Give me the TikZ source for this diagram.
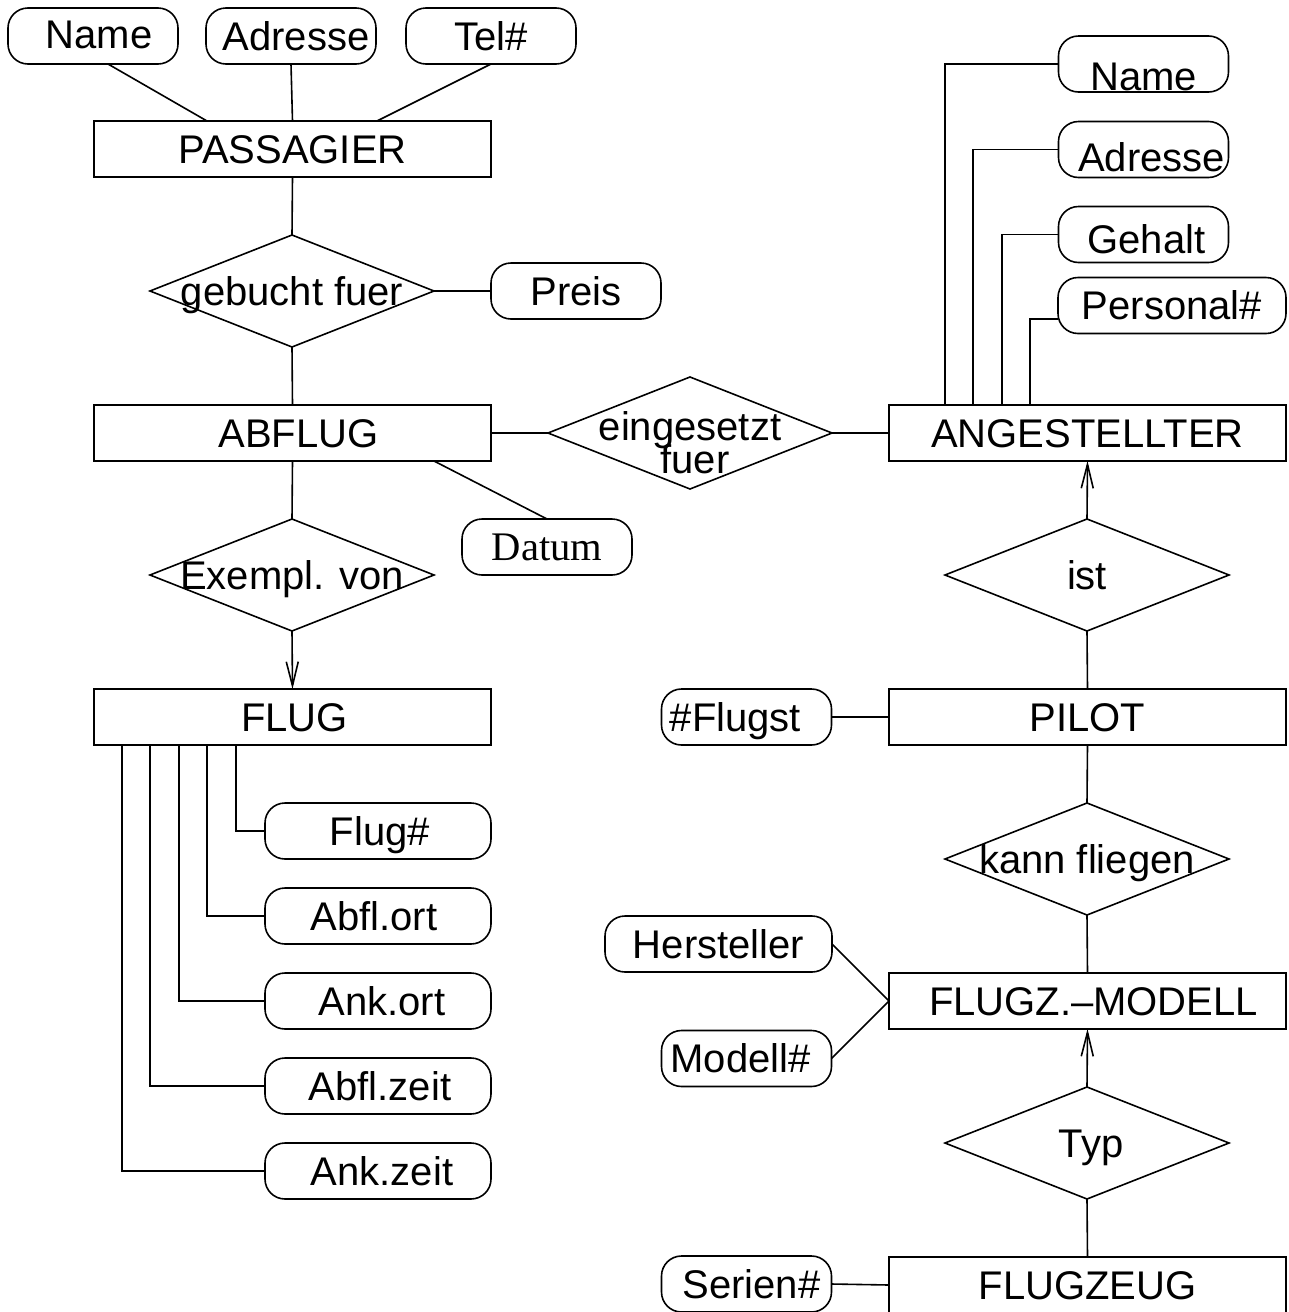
\documentclass[tikz,border=0pt]{standalone}
\usepackage{fontspec}
\setmainfont{Liberation Sans}
\newfontfamily\seriffont{Liberation Serif}
\usetikzlibrary{shapes.geometric,arrows.meta}
\begin{document}
\begin{tikzpicture}[x=0.5pt,y=-0.5pt,line width=0.8pt,
  ent/.style={draw,rectangle,minimum width=198.5pt,minimum height=28pt,inner sep=0pt,outer sep=0pt},
  rel/.style={draw,diamond,minimum width=142pt,minimum height=56pt,inner sep=0pt,outer sep=0pt},
  att/.style={draw,rectangle,rounded corners=10pt,minimum width=85pt,minimum height=28pt,inner sep=0pt,outer sep=0pt},
  txt/.style={font=\fontsize{20}{17}\selectfont,text height=14.3pt,text depth=0pt,inner sep=0pt,outer sep=0pt},
  arr/.style={-{Straight Barb[length=12pt,width=6pt]}}]
\clip (0,0) rectangle (1289,1312);

% entities
\node[ent,label={[txt]center:PASSAGIER}] (pas) at (292.5,149) {};
\node[ent,label={[txt,xshift=3pt]center:ABFLUG}] (abf) at (292.5,433) {};
\node[ent,label={[txt,xshift=1pt]center:FLUG}] (flug) at (292.5,717) {};
\node[ent,label={[txt]center:ANGESTELLTER}] (ang) at (1087.5,433) {};
\node[ent,label={[txt]center:PILOT}] (pil) at (1087.5,717) {};
\node[ent,label={[txt,xshift=3pt]center:FLUGZ.–MODELL}] (fzm) at (1087.5,1001) {};
\node[ent,label={[txt]center:FLUGZEUG}] (fz) at (1087.5,1285) {};

% relationships
\node[rel,label={[txt]center:gebucht fuer}] (geb) at (292,291) {};
\node[rel,label={[txt]center:Exempl. von}] (exe) at (292,575) {};
\node[rel,label={[txt,yshift=3.25pt]center:eingesetzt},
          label={[txt,xshift=2.5pt,yshift=-13pt]center:fuer}] (ein) at (690,433) {};
\node[rel,label={[txt]center:ist}] (ist) at (1087,575) {};
\node[rel,label={[txt]center:kann fliegen}] (kfl) at (1087,859) {};
\node[rel,label={[txt,xshift=2pt]center:Typ}] (typ) at (1087,1143) {};

% attributes of PASSAGIER and ABFLUG
\node[att,label={[txt,xshift=3pt,yshift=1pt]center:Name}] (pname) at (93,36) {};
\node[att,label={[txt,xshift=2.5pt]center:Adresse}] (padr) at (291,36) {};
\node[att,label={[txt]center:Tel\#}] (ptel) at (491,36) {};
\node[att,label={[txt]center:Preis}] (preis) at (576,291) {};
\node[att,label={[txt,font=\seriffont\fontsize{20.3}{20}\selectfont,text height=13.4pt]center:Datum}] (datum) at (547,547) {};

% attributes of FLUG
\node[att,minimum width=113pt,label={[txt,xshift=1pt]center:Flug\#}] (fnr) at (378,831) {};
\node[att,minimum width=113pt,label={[txt,xshift=-2pt]center:Abfl.ort}] (fabo) at (378,916) {};
\node[att,minimum width=113pt,label={[txt,xshift=2pt]center:Ank.ort}] (fanko) at (378,1001) {};
\node[att,minimum width=113pt,label={[txt,xshift=1pt]center:Abfl.zeit}] (fabz) at (378,1086) {};
\node[att,minimum width=113pt,label={[txt,xshift=2pt]center:Ank.zeit}] (fankz) at (378,1171) {};

% attributes of ANGESTELLTER
\node[att,label={[txt,yshift=-6pt]center:Name}] (aname) at (1143.5,64) {};
\node[att,label={[txt,xshift=4pt,yshift=-4pt]center:Adresse}] (aadr) at (1143.5,149.5) {};
\node[att,label={[txt,xshift=1.5pt,yshift=-2.5pt]center:Gehalt}] (ageh) at (1143.5,234.5) {};
\node[att,minimum width=114pt,label={[txt]center:Personal\#}] (apers) at (1172,305.5) {};

% attributes of PILOT, FLUGZ.-MODELL and FLUGZEUG
\node[att,label={[txt,xshift=-5.5pt]center:\#Flugst}] (flst) at (746.5,717) {};
\node[att,minimum width=113.5pt,label={[txt]center:Hersteller}] (hst) at (718.5,944) {};
\node[att,label={[txt,xshift=-3pt]center:Modell\#}] (mnr) at (746.5,1058.5) {};
\node[att,label={[txt,xshift=2.5pt]center:Serien\#}] (snr) at (746.5,1284) {};

% PASSAGIER side
\draw ([xshift=7.5pt]pname.south) -- ([xshift=56.5pt]pas.north west);
\draw (padr.south) -- (pas.north);
\draw (ptel.south) -- ([xshift=-57pt]pas.north east);
\draw (pas.south) -- (geb.north);
\draw (geb.east) -- (preis.west);
\draw (geb.south) -- (abf.north);
\draw (abf.east) -- (ein.west);
\draw (ein.east) -- (ang.west);
\draw ([xshift=-28.5pt]abf.south east) -- (datum.north);
\draw (abf.south) -- (exe.north);
\draw[arr] (exe.south) -- (flug.north);

% FLUG attributes
\draw ([xshift=71pt]flug.south west) |- (fnr.west);
\draw ([xshift=56.5pt]flug.south west) |- (fabo.west);
\draw ([xshift=42.5pt]flug.south west) |- (fanko.west);
\draw ([xshift=28pt]flug.south west) |- (fabz.west);
\draw ([xshift=14pt]flug.south west) |- (fankz.west);

% ANGESTELLTER attributes
\draw ([xshift=28pt]ang.north west) |- (aname.west);
\draw ([xshift=42pt]ang.north west) |- (aadr.west);
\draw ([xshift=56.5pt]ang.north west) |- (ageh.west);
\draw ([xshift=70.5pt]ang.north west) |- ([yshift=-6.75pt]apers.west);

% right column
\draw[arr] (ist.north) -- (ang.south);
\draw (ist.south) -- (pil.north);
\draw (flst.east) -- (pil.west);
\draw (pil.south) -- (kfl.north);
\draw (kfl.south) -- (fzm.north);
\draw (hst.east) -- (fzm.west);
\draw (mnr.east) -- (fzm.west);
\draw[arr] (typ.north) -- (fzm.south);
\draw (typ.south) -- (fz.north);
\draw (snr.east) -- (fz.west);
\end{tikzpicture}
\end{document}
